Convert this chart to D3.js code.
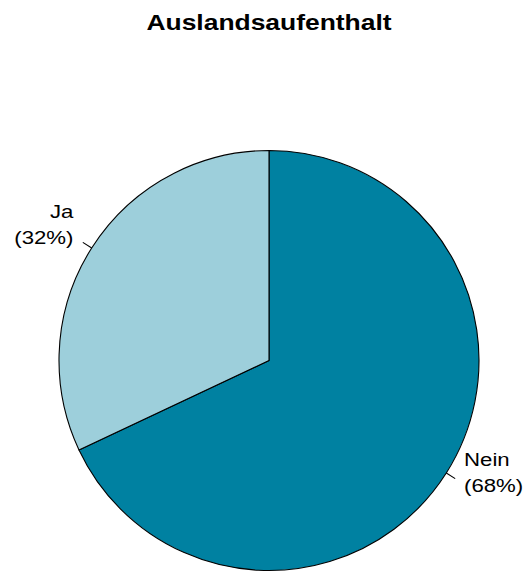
<!DOCTYPE html>
<html>
<head>
<meta charset="utf-8">
<script src="https://cdn.jsdelivr.net/npm/d3@7"></script>
<style>
  html, body { margin: 0; padding: 0; background: #fff; }
  svg { display: block; }
  text { font-family: "Liberation Sans", Arial, sans-serif; fill: #000; }
</style>
</head>
<body>
<svg id="chart" width="527" height="574"></svg>
<script>
const title = "Auslandsaufenthalt";
const categories = ["Nein", "Ja"];
const values = [68, 32];
const percentLabels = ["(68%)", "(32%)"];
const colors = ["#0081a1", "#9dcfdb"];

const W = 527, H = 574;
const cx = 269, cy = 360.5, R = 210;
const stretch = 1.2;

const svg = d3.select("#chart");

svg.append("text")
  .attr("transform", `translate(${W/2 + 5.5},30) scale(1.23,1)`)
  .attr("text-anchor", "middle")
  .style("font-size", "21.5px")
  .style("font-weight", "bold")
  .text(title);

const data = categories.map((c, i) => ({ cat: c, value: values[i], pct: percentLabels[i], color: colors[i] }));

const pie = d3.pie().value(d => d.value).sort(null);
const arcs = pie(data);
const arc = d3.arc().innerRadius(0).outerRadius(R);

const g = svg.append("g").attr("transform", `translate(${cx},${cy})`);

g.selectAll("path.slice")
  .data(arcs)
  .join("path")
  .attr("class", "slice")
  .attr("d", arc)
  .attr("fill", d => d.data.color)
  .attr("stroke", "#000")
  .attr("stroke-width", 1.1)
  .attr("stroke-linejoin", "round");

const rScale = d3.scaleLinear().domain([0, 1]).range([0, R]);
function pt(a, k) {
  const r = rScale(k);
  return [r * Math.sin(a), -r * Math.cos(a)];
}

arcs.forEach(d => {
  const mid = (d.startAngle + d.endAngle) / 2;
  const p1 = pt(mid, 1.0), p2 = pt(mid, 1.05), p3 = pt(mid, 1.1);
  g.append("line")
    .attr("x1", p1[0]).attr("y1", p1[1])
    .attr("x2", p2[0]).attr("y2", p2[1])
    .attr("stroke", "#000").attr("stroke-width", 1.1);
  const right = Math.sin(mid) > 0;
  const anchor = right ? "start" : "end";
  const lines = [d.data.cat, d.data.pct];
  const offs = [-18.5, 7.5];
  lines.forEach((t, i) => {
    g.append("text")
      .attr("transform", `translate(${p3[0] + (right ? 0 : -0.5)},${p3[1] + offs[i]}) scale(${stretch},1)`)
      .attr("text-anchor", anchor)
      .style("font-size", "18.5px")
      .text(t);
  });
});
</script>
</body>
</html>
